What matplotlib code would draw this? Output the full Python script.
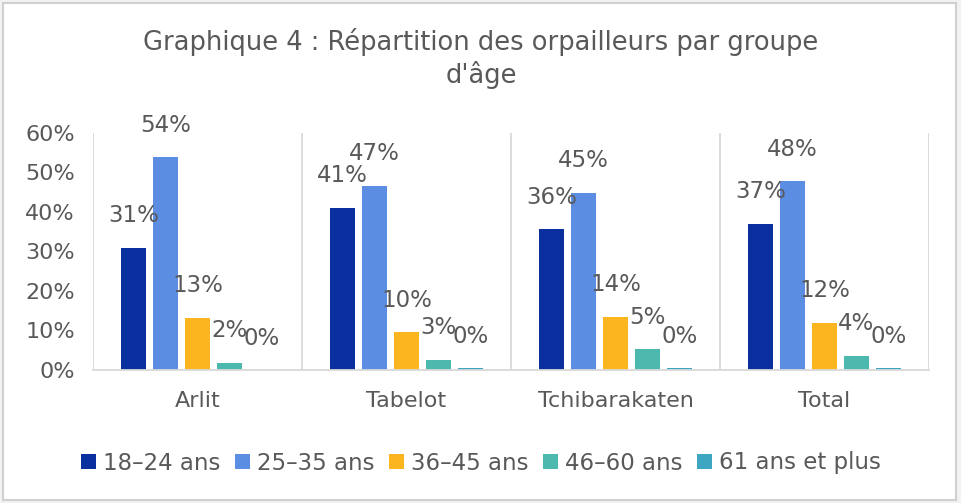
import matplotlib.pyplot as plt
import numpy as np
from matplotlib.patches import Rectangle

plt.rcParams['font.family'] = ['DejaVu Sans']

# Data (percent)
sites = ['Arlit', 'Tabelot', 'Tchibarakaten', 'Total']
groups = ['18–24 ans', '25–35 ans', '36–45 ans', '46–60 ans', '61 ans et plus']
age_18_24 = [31.0, 41.1, 35.6, 37.0]
age_25_35 = [53.9, 46.7, 44.9, 47.8]
age_36_45 = [13.2, 9.6, 13.5, 11.9]
age_46_60 = [1.8, 2.6, 5.2, 3.6]
age_61_plus = [0.0, 0.45, 0.45, 0.45]
series = [age_18_24, age_25_35, age_36_45, age_46_60, age_61_plus]

colors = ['#0a2f9e', '#5b8de3', '#fbb51e', '#4db8ad', '#3fa6c2']
text_col = '#595959'
grid_col = '#d9d9d9'

fig = plt.figure(figsize=(9.62, 5.03), dpi=100)
fig.patch.set_facecolor('#f2f2f2')
fig.patches.append(Rectangle((3 / 962, 3 / 503), 953 / 962, 497 / 503,
                             transform=fig.transFigure, facecolor='white',
                             edgecolor='#d0d0d0', linewidth=1.5, zorder=-1))

ax = fig.add_axes([93 / 962, 1 - 370 / 503, 836 / 962, 237 / 503])
ax.set_facecolor('none')
ax.set_zorder(1)

x = np.arange(len(sites))
pitch = 0.153
width = 0.12
for i, (vals, lab, c) in enumerate(zip(series, groups, colors)):
    pos = x + (i - 2) * pitch
    ax.bar(pos, vals, width=width, color=c, label=lab, zorder=2)
    for px, v in zip(pos, vals):
        ax.text(px, v + 8.1, f"{v:.0f}%", ha='center', va='center',
                fontsize=16.5, color=text_col, zorder=3)

ax.set_xlim(-0.5, len(sites) - 0.5)
ax.set_ylim(0, 60)
ax.set_yticks(np.arange(0, 61, 10))
ax.set_yticklabels([f"{t}%" for t in range(0, 61, 10)])
ax.set_xticks(x)
ax.set_xticklabels(sites)

# vertical separators between categories
ax.set_xticks(np.arange(-0.5, len(sites)), minor=True)
ax.grid(which='minor', axis='x', color=grid_col, linewidth=1.3)
ax.tick_params(axis='both', which='both', length=0, labelsize=16, colors=text_col)
ax.tick_params(axis='y', pad=13)
ax.tick_params(axis='x', pad=15)
for s in ['top', 'left', 'right']:
    ax.spines[s].set_visible(False)
ax.spines['bottom'].set_color(grid_col)
ax.spines['bottom'].set_linewidth(1.3)

fig.text(0.5, 1 - 42 / 503, "Graphique 4 : Répartition des orpailleurs par groupe",
         ha='center', va='center', fontsize=18.5, color=text_col)
fig.text(0.5, 1 - 75 / 503, "d'âge", ha='center', va='center', fontsize=18.5, color=text_col)

fig.legend(loc='center', bbox_to_anchor=(0.5, 1 - 463 / 503), ncol=5, frameon=False,
           fontsize=16.5, labelcolor=text_col, handlelength=0.65, handleheight=0.65,
           handletextpad=0.3, columnspacing=0.65)

fig.savefig('out.png', dpi=100, facecolor=fig.get_facecolor())
